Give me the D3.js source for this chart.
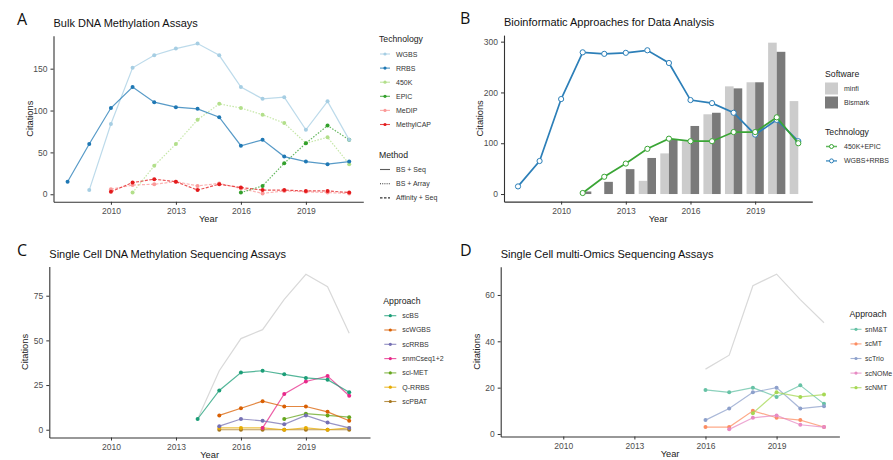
<!DOCTYPE html>
<html>
<head>
<meta charset="utf-8">
<script src="https://cdn.jsdelivr.net/npm/d3@7"></script>
<style>
  body { margin: 0; background: #fff; }
  svg { font-family: "Liberation Sans", Arial, sans-serif; }
  .axis text { fill: #4d4d4d; font-size: 8.5px; }
  .axis path, .axis line { stroke: #333; }
  .atitle { font-size: 9.3px; fill: #222; }
  .ptitle { font-size: 11px; fill: #111; }
  .letter { font-size: 16px; fill: #111; font-family: "Open Sans", "Liberation Sans", sans-serif; }
  .ltitle { font-size: 8.7px; fill: #222; }
  .llabel { font-size: 7px; fill: #333; }
</style>
</head>
<body>
<svg id="chart" width="893" height="460"></svg>
<script>
// ---- data ----
const yearsA = [2008, 2009, 2010, 2011, 2012, 2013, 2014, 2015, 2016, 2017, 2018, 2019, 2020, 2021];
const wgbs      = [null, 5, 84, 151, 166, 174, 180, 166, 128, 114, 116, 77, 111, 65];
const rrbs      = [15, 60, 103, 128, 110, 104, 102, 92, 58, 65, 45, 39, 36, 39];
const k450      = [null, null, null, 2, 34, 60, 89, 108, 103, 95, 85, 61, 68, 36];
const epic      = [null, null, null, null, null, null, null, null, 2, 10, 37, 61, 82, 65];
const medip     = [null, null, 6, 11, 12, 15, 10, 13, 7, 1, 4, 3, 2, 1];
const methylcap = [null, null, 3, 14, 18, 15, 5, 12, 8, 5, 5, 4, 4, 2];

const minfi     = [null, null, null, null, null, null, 26, 80, 104, 157, 212, 220, 298, 183];
const bismark   = [null, null, null, 5, 24, 49, 71, 108, 134, 160, 208, 220, 280, null];
const wgbsRrbs  = [15, 65, 187, 279, 276, 278, 283, 258, 185, 179, 160, 117, 146, 104];
const k450Epic  = [null, null, null, 2, 34, 60, 89, 109, 104, 104, 122, 122, 151, 100];

const yearsC = [2014, 2015, 2016, 2017, 2018, 2019, 2020, 2021];
const totalC  = [6, 33, 51, 56, 73, 87, 80, 54];
const scBS    = [6, 22, 32, 33, 31, 29, 28, 21];
const scWGBS  = [null, 8, 12, 16, 13, 13, 10, 5];
const scRRBS  = [null, 2, 6, 5, 3, 8, 4, 1];
const snmC    = [null, null, null, 1, 20, 27, 30, 19];
const sciMET  = [null, null, null, null, 6, 9, 8, 7];
const qRRBS   = [null, 1, 1, 1, 0, 1, 0, 1];
const scPBAT  = [null, 0, 0, 0, 0, 0, 0, 0];

const yearsD = [2016, 2017, 2018, 2019, 2020, 2021];
const totalD = [28, 34, 64, 69, 58, 48];
const snMT   = [19, 18, 20, 16, 21, 13];
const scMT   = [3, 3, 10, 7, 6, 3];
const scTrio = [6, 11, 18, 20, 11, 12];
const scNOMe = [null, 2, 7, 8, 4, 3];
const scNMT  = [null, null, 9, 18, 16, 17];

const xTickVals = [2010, 2013, 2016, 2019];

const svg = d3.select('#chart');

function zip(years, vals) {
  return years.map((y, i) => ({ x: y, y: vals[i] }));
}

function drawAxes(p) {
  const g = svg.append('g');
  g.append('g').attr('class', 'axis')
    .attr('transform', 'translate(0,' + p.y.range()[0] + ')')
    .call(d3.axisBottom(p.x).tickValues(xTickVals).tickFormat(d3.format('d'))
      .tickSize(3).tickSizeOuter(0).tickPadding(3));
  g.append('g').attr('class', 'axis')
    .attr('transform', 'translate(' + p.x.range()[0] + ',0)')
    .call(d3.axisLeft(p.y).tickValues(p.yTicks).tickSize(3).tickSizeOuter(0).tickPadding(3));
  g.selectAll('.axis path').attr('stroke-width', 1.1);

  const [x0, x1] = p.x.range();
  const [yb, yt] = p.y.range();
  g.append('text').attr('class', 'letter').attr('x', p.letterX).attr('y', yt - 11).text(p.letter);
  g.append('text').attr('class', 'ptitle').attr('x', x0).attr('y', yt - 9).text(p.title);
  g.append('text').attr('class', 'atitle').attr('text-anchor', 'middle')
    .attr('x', (x0 + x1) / 2).attr('y', yb + 20).text('Year');
  g.append('text').attr('class', 'atitle').attr('text-anchor', 'middle')
    .attr('transform', 'translate(' + (x0 - 21) + ',' + (yb + yt) / 2 + ') rotate(-90)')
    .text('Citations');
}

function drawSeries(p, data, color, opts) {
  opts = opts || {};
  const line = d3.line()
    .defined(d => d.y != null)
    .x(d => p.x(d.x))
    .y(d => p.y(d.y));
  svg.append('path')
    .datum(data)
    .attr('fill', 'none')
    .attr('stroke', color)
    .attr('stroke-width', opts.width || 1.2)
    .attr('stroke-opacity', opts.opacity || 0.75)
    .attr('stroke-dasharray', opts.dash || null)
    .attr('d', line);
  if (opts.points === false) return;
  svg.append('g').selectAll('circle')
    .data(data.filter(d => d.y != null))
    .enter()
    .append('circle')
    .attr('cx', d => p.x(d.x))
    .attr('cy', d => p.y(d.y))
    .attr('r', opts.r || 2)
    .attr('fill', opts.open ? '#fff' : color)
    .attr('stroke', opts.open ? color : 'none')
    .attr('stroke-width', 1);
}

function legend(x, y, title, items, step) {
  const g = svg.append('g').attr('transform', 'translate(' + x + ',' + y + ')');
  g.append('text').attr('class', 'ltitle').attr('y', 3).text(title);
  items.forEach((it, i) => {
    const cy = 15 + i * step;
    if (it.box) {
      g.append('rect').attr('x', 0).attr('y', cy - 6).attr('width', 13).attr('height', 12)
        .attr('fill', it.box);
    } else {
      g.append('line').attr('x1', 1).attr('x2', it.w || 11).attr('y1', cy).attr('y2', cy)
        .attr('stroke', it.color).attr('stroke-width', it.lw || 1.1)
        .attr('stroke-opacity', it.dash ? 1 : 0.8)
        .attr('stroke-dasharray', it.dash || null);
      if (!it.noPoint) {
        g.append('circle').attr('cx', (1 + (it.w || 11)) / 2).attr('cy', cy).attr('r', it.open ? 2 : 1.6)
          .attr('fill', it.open ? '#fff' : it.color)
          .attr('stroke', it.open ? it.color : 'none');
      }
    }
    g.append('text').attr('class', 'llabel').attr('x', it.lx || 17).attr('y', cy + 2.5).text(it.label);
  });
}

// ---- Panel A ----
const pA = {
  x: d3.scaleLinear().domain([2007.35, 2021.65]).range([53.5, 363.3]),
  y: d3.scaleLinear().domain([-9, 189.4]).range([201.8, 35.7]),
  yTicks: [0, 50, 100, 150], letter: 'A', letterX: 17, title: 'Bulk DNA Methylation Assays'
};
drawAxes(pA);
drawSeries(pA, zip(yearsA, medip), '#fb9a99', { dash: '3,1.5' });
drawSeries(pA, zip(yearsA, methylcap), '#e31a1c', { dash: '3,1.5' });
drawSeries(pA, zip(yearsA, k450), '#b2df8a', { dash: '1.5,1.5' });
drawSeries(pA, zip(yearsA, epic), '#33a02c', { dash: '1.5,1.5' });
drawSeries(pA, zip(yearsA, wgbs), '#a6cee3');
drawSeries(pA, zip(yearsA, rrbs), '#1f78b4');

legend(379, 39, 'Technology', [
  { label: 'WGBS', color: '#a6cee3' },
  { label: 'RRBS', color: '#1f78b4' },
  { label: '450K', color: '#b2df8a' },
  { label: 'EPIC', color: '#33a02c' },
  { label: 'MeDIP', color: '#fb9a99' },
  { label: 'MethylCAP', color: '#e31a1c' }
], 14.1);
legend(379, 154.5, 'Method', [
  { label: 'BS + Seq', color: '#333', noPoint: true },
  { label: 'BS + Array', color: '#333', noPoint: true, dash: '1,1.2' },
  { label: 'Affinity + Seq', color: '#333', noPoint: true, dash: '2.5,1.5' }
], 14.2);

// ---- Panel B ----
const pB = {
  x: d3.scaleLinear().domain([2007.35, 2021.65]).range([504, 812.3]),
  y: d3.scaleLinear().domain([-14.9, 312.9]).range([201.6, 35.1]),
  yTicks: [0, 100, 200, 300], letter: 'B', letterX: 460, title: 'Bioinformatic Approaches for Data Analysis'
};
drawAxes(pB);
const barW = 0.4;
svg.append('g').selectAll('rect')
  .data(zip(yearsA, minfi).filter(d => d.y != null))
  .enter().append('rect')
  .attr('x', d => pB.x(d.x - barW))
  .attr('width', d => pB.x(d.x) - pB.x(d.x - barW))
  .attr('y', d => pB.y(d.y))
  .attr('height', d => pB.y(0) - pB.y(d.y))
  .attr('fill', '#cccccc');
svg.append('g').selectAll('rect')
  .data(zip(yearsA, bismark).filter(d => d.y != null))
  .enter().append('rect')
  .attr('x', d => pB.x(d.x))
  .attr('width', d => pB.x(d.x + barW) - pB.x(d.x))
  .attr('y', d => pB.y(d.y))
  .attr('height', d => pB.y(0) - pB.y(d.y))
  .attr('fill', '#7a7a7a');
drawSeries(pB, zip(yearsA, wgbsRrbs), '#2c7fb8', { width: 1.7, opacity: 1, open: true, r: 2.6 });
drawSeries(pB, zip(yearsA, k450Epic), '#3aa535', { width: 1.7, opacity: 1, open: true, r: 2.6 });

legend(825, 73.5, 'Software', [
  { label: 'minfi', box: '#cccccc', lx: 19 },
  { label: 'Bismark', box: '#7a7a7a', lx: 19 }
], 14);
legend(825, 131.5, 'Technology', [
  { label: '450K+EPIC', color: '#3aa535', open: true, w: 12, lw: 1.5, lx: 19 },
  { label: 'WGBS+RRBS', color: '#2c7fb8', open: true, w: 12, lw: 1.5, lx: 19 }
], 14.4);

// ---- Panel C ----
const pC = {
  x: d3.scaleLinear().domain([2007.15, 2021.96]).range([49.3, 370]),
  y: d3.scaleLinear().domain([-4.35, 91.35]).range([437.5, 266.5]),
  yTicks: [0, 25, 50, 75], letter: 'C', letterX: 17, title: 'Single Cell DNA Methylation Sequencing Assays'
};
drawAxes(pC);
drawSeries(pC, zip(yearsC, totalC), '#d9d9d9', { points: false, opacity: 1 });
const colorsC = ['#1b9e77', '#d95f02', '#7570b3', '#e7298a', '#66a61e', '#e6ab02', '#a6761d'];
const namesC = ['scBS', 'scWGBS', 'scRRBS', 'snmCseq1+2', 'sci-MET', 'Q-RRBS', 'scPBAT'];
[scBS, scWGBS, scRRBS, snmC, sciMET, qRRBS, scPBAT].slice().reverse().forEach((s, i) => {
  drawSeries(pC, zip(yearsC, s), colorsC[6 - i]);
});
legend(383.3, 300.7, 'Approach', namesC.map((n, i) => ({ label: n, color: colorsC[i], w: 13, lx: 19 })), 14.3);

// ---- Panel D ----
const pD = {
  x: d3.scaleLinear().domain([2007.36, 2021.65]).range([500.7, 839.4]),
  y: d3.scaleLinear().domain([-1.08, 72.2]).range([436.5, 266.7]),
  yTicks: [0, 20, 40, 60], letter: 'D', letterX: 460, title: 'Single Cell multi-Omics Sequencing Assays'
};
drawAxes(pD);
drawSeries(pD, zip(yearsD, totalD), '#d9d9d9', { points: false, opacity: 1 });
const colorsD = ['#66c2a5', '#fc8d62', '#8da0cb', '#e78ac3', '#a6d854'];
const namesD = ['snM&T', 'scMT', 'scTrio', 'scNOMe', 'scNMT'];
[snMT, scMT, scTrio, scNOMe, scNMT].forEach((s, i) => {
  drawSeries(pD, zip(yearsD, s), colorsD[i]);
});
legend(849.5, 314.3, 'Approach', namesD.map((n, i) => ({ label: n, color: colorsD[i], w: 12, lx: 15.5 })), 14.6);
</script>
</body>
</html>
